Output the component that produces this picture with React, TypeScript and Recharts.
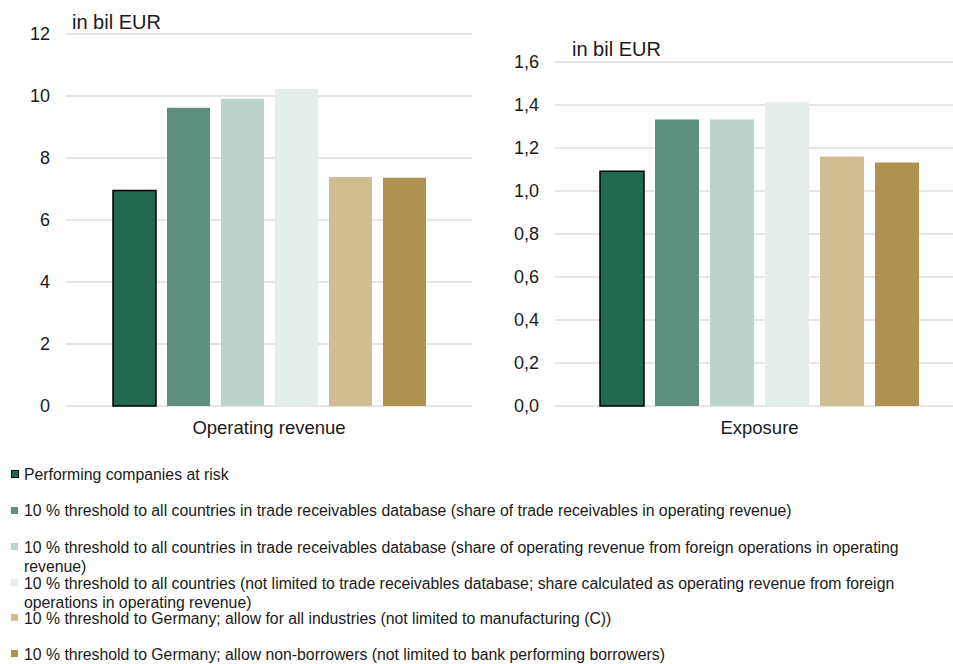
import React from "react";
import { BarChart, Bar, XAxis, YAxis, CartesianGrid } from "recharts";

const seriesNames: string[] = [
  "Performing companies at risk",
  "10 % threshold to all countries in trade receivables database (share of trade receivables in operating revenue)",
  "10 % threshold to all countries in trade receivables database (share of operating revenue from foreign operations in operating\nrevenue)",
  "10 % threshold to all countries (not limited to trade receivables database; share calculated as operating revenue from foreign\noperations in operating revenue)",
  "10 % threshold to Germany; allow for all industries (not limited to manufacturing (C))",
  "10 % threshold to Germany; allow non-borrowers (not limited to bank performing borrowers)",
];
const seriesColors: string[] = ["#216A50", "#5F8F7F", "#BCD3CB", "#E5EEEB", "#D0BE92", "#AF924F"];

const revenueCategory = ["Operating revenue"];
const revenueValues: number[] = [6.95, 9.62, 9.91, 10.23, 7.39, 7.36];
const revenueTicks: number[] = [0, 2, 4, 6, 8, 10, 12];

const exposureCategory = ["Exposure"];
const exposureValues: number[] = [1.092, 1.333, 1.333, 1.413, 1.161, 1.133];
const exposureTicks: number[] = [0, 0.2, 0.4, 0.6, 0.8, 1.0, 1.2, 1.4, 1.6];

const unitLabel = "in bil EUR";

const FONT = "'Liberation Sans', Arial, sans-serif";
const TEXT = "#1a1a1a";

function buildRow(name: string, values: number[]) {
  const row: Record<string, any> = { name };
  values.forEach((v, i) => (row["s" + i] = v));
  return [row];
}

const yTickStyle = { fontSize: 18, fill: TEXT, fontFamily: FONT };
const xTickStyle = { fontSize: 18.5, fill: TEXT, fontFamily: FONT };

function Panel(props: {
  left: number;
  width: number;
  marginLeft: number;
  marginRight: number;
  marginTop: number;
  yWidth: number;
  data: any[];
  ticks: number[];
  fmt: (v: number) => string;
  barSize: number;
}) {
  const { left, width, marginLeft, marginRight, marginTop, yWidth, data, ticks, fmt, barSize } = props;
  return (
    <div style={{ position: "absolute", left, top: 0 }}>
      <BarChart
        width={width}
        height={440}
        data={data}
        margin={{ top: marginTop, right: marginRight, bottom: 4, left: marginLeft }}
        barSize={barSize}
        barGap={11}
      >
        <CartesianGrid vertical={false} stroke="#dedede" strokeWidth={1.5} />
        <XAxis
          dataKey="name"
          axisLine={false}
          tickLine={false}
          tickSize={0}
          tickMargin={15}
          height={30}
          tick={xTickStyle}
        />
        <YAxis
          type="number"
          domain={[ticks[0], ticks[ticks.length - 1]]}
          ticks={ticks}
          interval={0}
          axisLine={false}
          tickLine={false}
          tickSize={0}
          tickMargin={16}
          width={yWidth}
          tick={yTickStyle}
          tickFormatter={fmt}
        />
        {seriesNames.map((n, i) => (
          <Bar
            key={i}
            dataKey={"s" + i}
            name={n}
            fill={seriesColors[i]}
            stroke={i === 0 ? "#000" : "none"}
            strokeWidth={i === 0 ? 1.5 : 0}
            isAnimationActive={false}
          />
        ))}
      </BarChart>
    </div>
  );
}

export default function App() {
  const revData = buildRow(revenueCategory[0], revenueValues);
  const expData = buildRow(exposureCategory[0], exposureValues);
  const rowCenters = [474.5, 510.7, 547, 583, 618, 654];
  return (
    <div
      style={{
        position: "absolute",
        left: 0,
        top: 0,
        width: 953,
        height: 664,
        overflow: "hidden",
        background: "#fff",
        fontFamily: FONT,
        color: TEXT,
      }}
    >
      <Panel
        left={0}
        width={480}
        marginLeft={10}
        marginRight={8}
        marginTop={34}
        yWidth={56}
        data={revData}
        ticks={revenueTicks}
        fmt={(v) => String(v)}
        barSize={43}
      />
      <Panel
        left={480}
        width={490}
        marginLeft={10}
        marginRight={6}
        marginTop={62}
        yWidth={65}
        data={expData}
        ticks={exposureTicks}
        fmt={(v) => v.toFixed(1).replace(".", ",")}
        barSize={44}
      />
      <div style={{ position: "absolute", left: 72, top: 12, fontSize: 20, lineHeight: "20px", whiteSpace: "nowrap" }}>
        {unitLabel}
      </div>
      <div style={{ position: "absolute", left: 572, top: 38.5, fontSize: 20, lineHeight: "20px", whiteSpace: "nowrap" }}>
        {unitLabel}
      </div>
      {seriesNames.map((n, i) => {
        const top = rowCenters[i] - 9.4;
        return (
          <div key={i} style={{ position: "absolute", left: 0, top, width: 953 }}>
            <div
              style={{
                position: "absolute",
                left: i === 0 ? 10.5 : 11,
                top: i === 0 ? 5 : 5.5,
                width: i === 0 ? 6 : 7,
                height: i === 0 ? 6 : 7,
                background: seriesColors[i],
                border: i === 0 ? "1.5px solid #000" : "none",
              }}
            />
            <div
              style={{
                position: "absolute",
                left: 24,
                top: 0,
                fontSize: 15.8,
                lineHeight: "19px",
                whiteSpace: "pre",
              }}
            >
              {n}
            </div>
          </div>
        );
      })}
    </div>
  );
}
